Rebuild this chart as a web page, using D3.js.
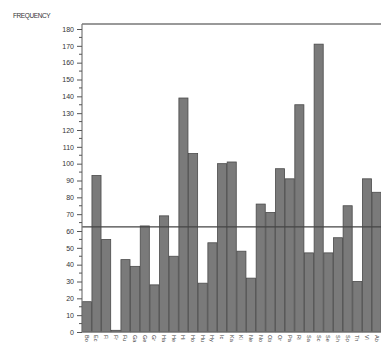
<!DOCTYPE html>
<html>
<head>
<meta charset="utf-8">
<script src="https://cdn.jsdelivr.net/npm/d3@7"></script>
<style>
  body { margin: 0; background: #fff; }
  svg { display: block; font-family: "Liberation Sans", Arial, sans-serif; }
</style>
</head>
<body>
<svg id="chart"></svg>
<script>
// Chart data
let categories = ['Bo', 'Ec', 'Fi', 'Fr', 'Fu', 'Ga', 'Ge', 'Gr', 'Ha', 'He',
    'Hi', 'Ho', 'Hu', 'Hy', 'Ic', 'Ka', 'Ki', 'Ne', 'No', 'Ob',
    'Or', 'Pa', 'Ri', 'Sa', 'Sc', 'Se', 'Sh', 'Sp', 'Th', 'Vi', 'Ab'];
let frequencies = [18, 93, 55, 1, 43, 39, 63, 28, 69, 45,
    139, 106, 29, 53, 100, 101, 48, 32, 76, 71,
    97, 91, 135, 47, 171, 47, 56, 75, 30, 91, 83];
let yTicks = d3.range(0, 181, 10);
let refValue = 62.5;
let yTitle = 'FREQUENCY';

let width = 381;
let height = 352;

let svg = d3.select('#chart')
    .attr('width', width)
    .attr('height', height);

// Plot area edges
let left = 82;
let bottom = 332;
let frameTop = 24;

let x = d3.scaleBand()
    .domain(categories)
    .range([left, left + categories.length * 9.66])
    .paddingInner(0.06)
    .paddingOuter(0.03);

let y = d3.scaleLinear()
    .domain([0, 180])
    .range([bottom, 29]);

// bars
svg.append('g')
    .selectAll('rect')
    .data(frequencies)
    .enter()
    .append('rect')
    .attr('x', (d, i) => x(categories[i]))
    .attr('y', d => y(d))
    .attr('width', x.bandwidth())
    .attr('height', d => bottom - y(d))
    .attr('fill', '#7a7a7a')
    .attr('stroke', '#4a4a4a')
    .attr('stroke-width', 0.8);

// reference line
svg.append('line')
    .attr('x1', left)
    .attr('x2', width)
    .attr('y1', y(refValue))
    .attr('y2', y(refValue))
    .attr('stroke', '#444')
    .attr('stroke-width', 1.3);

// frame: top line, left axis, baseline
svg.append('line')
    .attr('x1', left).attr('x2', width)
    .attr('y1', frameTop).attr('y2', frameTop)
    .attr('stroke', '#777').attr('stroke-width', 1.6);
svg.append('line')
    .attr('x1', left).attr('x2', left)
    .attr('y1', frameTop).attr('y2', bottom)
    .attr('stroke', '#777').attr('stroke-width', 1.2);
svg.append('line')
    .attr('x1', left).attr('x2', width)
    .attr('y1', bottom).attr('y2', bottom)
    .attr('stroke', '#777').attr('stroke-width', 1.2);

// y axis with minor ticks
let yAxis = d3.axisLeft(y)
    .tickValues(yTicks)
    .tickSize(5)
    .tickPadding(3);
let yAxisG = svg.append('g')
    .attr('transform', `translate(${left},0)`)
    .call(yAxis);
yAxisG.select('.domain').remove();
yAxisG.selectAll('line').attr('stroke', '#555');
yAxisG.selectAll('text')
    .attr('font-size', 7)
    .attr('fill', '#333')
    .attr('font-family', '"Liberation Sans", Arial, sans-serif');

svg.append('g')
    .selectAll('line')
    .data(d3.range(5, 180, 10))
    .enter()
    .append('line')
    .attr('x1', left - 3)
    .attr('x2', left)
    .attr('y1', d => y(d))
    .attr('y2', d => y(d))
    .attr('stroke', '#555');

// axis title
svg.append('text')
    .attr('x', 13)
    .attr('y', 18)
    .attr('font-size', 6.5)
    .attr('fill', '#333')
    .attr('letter-spacing', -0.4)
    .text(yTitle);

// category labels, rotated
svg.append('g')
    .selectAll('text')
    .data(categories)
    .enter()
    .append('text')
    .attr('transform', d => `translate(${x(d) + x.bandwidth() / 2 - 2},335) rotate(90)`)
    .attr('font-size', 5.5)
    .attr('fill', '#444')
    .text(d => d);
</script>
</body>
</html>
